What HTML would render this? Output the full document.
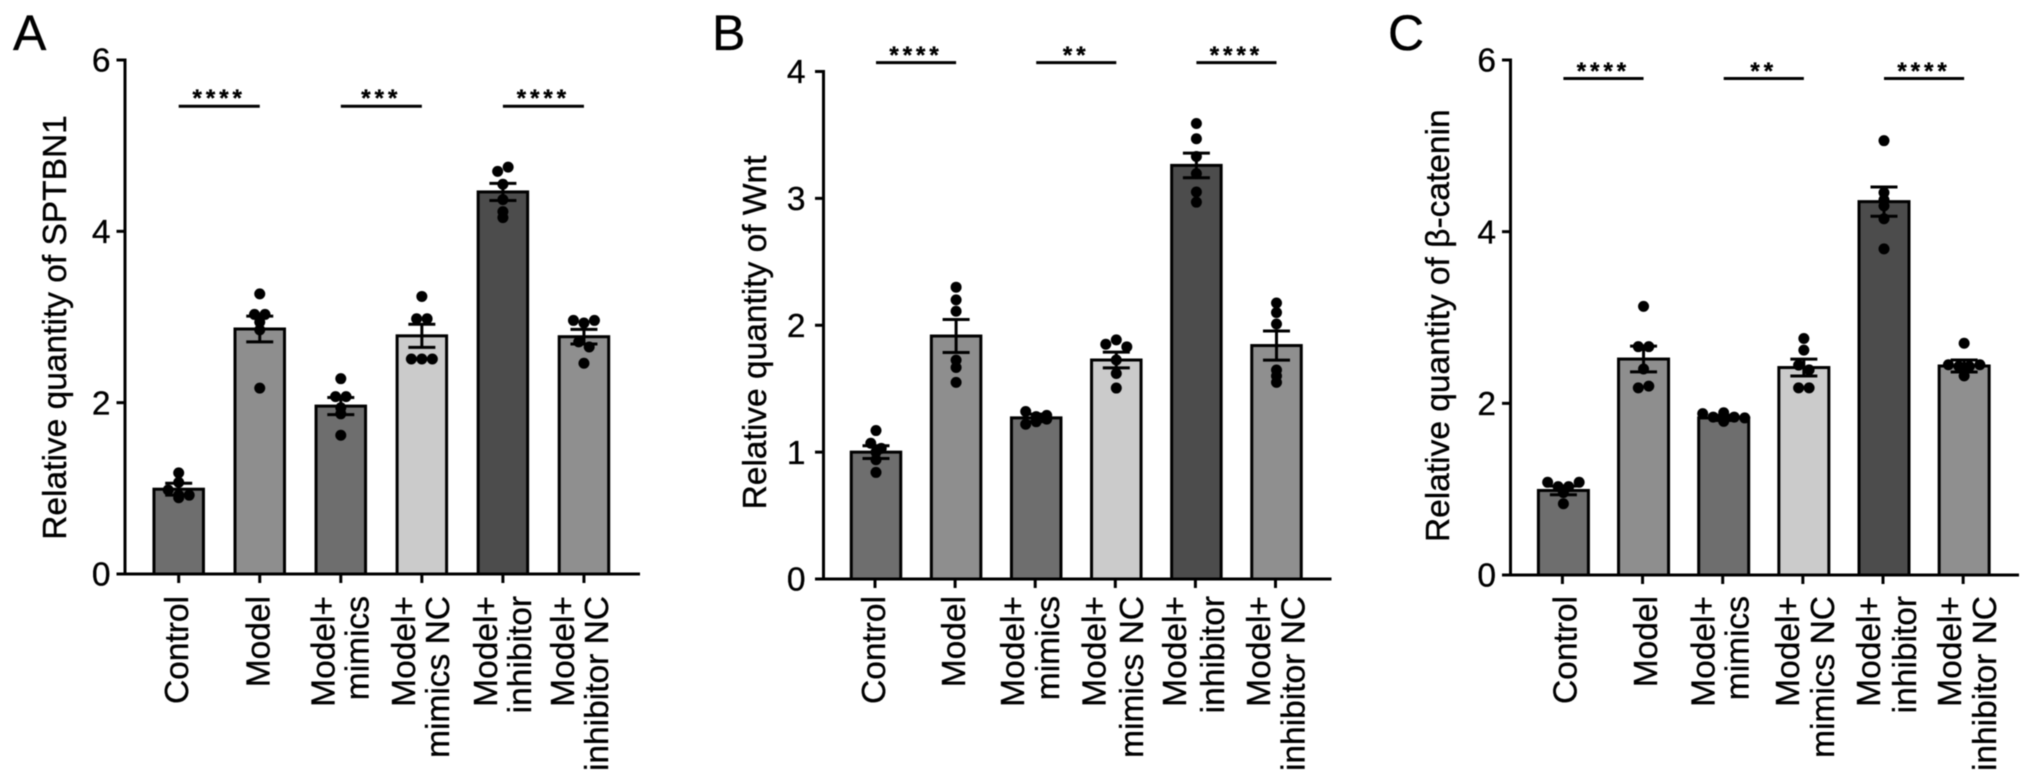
<!DOCTYPE html>
<html lang="en">
<head>
<meta charset="utf-8">
<title>Relative quantity of SPTBN1, Wnt and β-catenin</title>
<style>
  html, body { margin: 0; padding: 0; background: #fff; }
  svg { display: block; font-family: "Liberation Sans", Arial, sans-serif; filter: blur(0.45px); }
  text { stroke: #000; stroke-width: 0.35px; }
</style>
</head>
<body>
<svg id="figure" xmlns="http://www.w3.org/2000/svg" width="2032" height="782" viewBox="0 0 2032 782">
  <rect x="0" y="0" width="2032" height="782" fill="#ffffff"/>
</svg>
<script>
const categoryLines = [["Control"], ["Model"], ["Model+", "mimics"], ["Model+", "mimics NC"], ["Model+", "inhibitor"], ["Model+", "inhibitor NC"]];
const barFills = ["#6e6e6e", "#8e8e8e", "#6e6e6e", "#cbcbcb", "#4c4c4c", "#8f8f8f"];

const panelATicks = [0, 2, 4, 6];
const panelAMeans = [0.99, 2.86, 1.96, 2.78, 4.46, 2.77];
const panelASems = [0.07, 0.15, 0.10, 0.135, 0.10, 0.085];
const panelADots = [
  [1.18, 1.07, 0.98, 0.89, 0.92, 0.92],
  [3.27, 3.03, 3.03, 2.94, 2.85, 2.17],
  [2.28, 2.07, 2.07, 1.94, 1.87, 1.62],
  [3.24, 2.98, 2.98, 2.51, 2.51, 2.51],
  [4.70, 4.75, 4.55, 4.37, 4.23, 4.16],
  [2.96, 2.93, 2.96, 2.71, 2.65, 2.46]
];
const panelASigStars = ["****", "***", "****"];
const panelASigLevel = [5.46, 5.46, 5.46];

const panelBTicks = [0, 1, 2, 3, 4];
const panelBMeans = [1.0, 1.915, 1.27, 1.726, 3.26, 1.84];
const panelBSems = [0.05, 0.13, 0.03, 0.062, 0.097, 0.115];
const panelBDots = [
  [1.17, 1.07, 1.03, 1.0, 0.94, 0.84],
  [2.30, 2.20, 2.11, 1.725, 1.667, 1.55],
  [1.32, 1.28, 1.29, 1.22, 1.24, 1.26],
  [1.85, 1.885, 1.83, 1.726, 1.62, 1.505],
  [3.59, 3.47, 3.33, 3.195, 3.05, 2.97],
  [2.175, 2.10, 2.01, 1.647, 1.60, 1.55]
];
const panelBSigStars = ["****", "**", "****"];
const panelBSigLevel = [4.07, 4.07, 4.07];

const panelCTicks = [0, 2, 4, 6];
const panelCMeans = [0.985, 2.516, 1.83, 2.417, 4.35, 2.435];
const panelCSems = [0.05, 0.15, 0.03, 0.098, 0.17, 0.07];
const panelCDots = [
  [1.08, 1.03, 1.03, 1.08, 0.96, 0.83],
  [3.13, 2.66, 2.66, 2.40, 2.18, 2.20],
  [1.88, 1.84, 1.89, 1.84, 1.79, 1.83],
  [2.755, 2.62, 2.445, 2.39, 2.18, 2.18],
  [5.06, 4.455, 4.37, 4.30, 4.15, 3.80],
  [2.70, 2.45, 2.43, 2.43, 2.45, 2.32]
];
const panelCSigStars = ["****", "**", "****"];
const panelCSigLevel = [5.785, 5.785, 5.785];

const sigPairs = [[0, 1], [2, 3], [4, 5]];

const panels = [
  {
    id: "a", letter: "A", letterX: 13, title: "Relative quantity of SPTBN1",
    titleX: 66, titleY: 327.5,
    axisX: 125, axisEnd: 640, top: 60, base: 574, firstCenter: 178.7, step: 81.05, barWidth: 49.5,
    tickNudge: 0, tickLabelX: 110.5, max: 6,
    singleShift: 9.5, doubleShifts: [[-6.5, 27.5], [-7, 27], [-6, 28], [-10, 24]],
    ticks: panelATicks, means: panelAMeans, sems: panelASems, dots: panelADots,
    stars: panelASigStars, levels: panelASigLevel, starsRise: 14.5
  },
  {
    id: "b", letter: "B", letterX: 712, title: "Relative quantity of Wnt",
    titleX: 766, titleY: 332.5,
    axisX: 823.5, axisEnd: 1331.5, top: 71.5, base: 579, firstCenter: 876, step: 80.1, barWidth: 49.5,
    tickNudge: -1, tickLabelX: 805.5, max: 4,
    singleShift: 10, doubleShifts: [[-11, 23.7], [-10, 27.6], [-9.4, 28.5], [-5.4, 29]],
    ticks: panelBTicks, means: panelBMeans, sems: panelBSems, dots: panelBDots,
    stars: panelBSigStars, levels: panelBSigLevel, starsRise: 13.5
  },
  {
    id: "c", letter: "C", letterX: 1388, title: "Relative quantity of β-catenin",
    titleX: 1449, titleY: 325.7,
    axisX: 1510.5, axisEnd: 2019, top: 60, base: 575, firstCenter: 1563.4, step: 80.15, barWidth: 50,
    tickNudge: -1, tickLabelX: 1496, max: 6,
    singleShift: 14.2, doubleShifts: [[-8, 26], [-4, 31], [-3.2, 33], [-2, 33]],
    ticks: panelCTicks, means: panelCMeans, sems: panelCSems, dots: panelCDots,
    stars: panelCSigStars, levels: panelCSigLevel, starsRise: 13.5
  }
];

const SVG_NS = "http://www.w3.org/2000/svg";
const figure = document.getElementById("figure");

function make(parent, tag, attrs, content) {
  const node = document.createElementNS(SVG_NS, tag);
  for (const key in attrs) node.setAttribute(key, attrs[key]);
  if (content !== undefined) node.textContent = content;
  parent.appendChild(node);
  return node;
}

function swarm(values, yScale) {
  const bins = [];
  values.forEach(function (v) {
    const y = yScale(v);
    const bin = bins.find(function (b) { return Math.abs(b.y - y) < 5.2; });
    if (bin) bin.items.push(v); else bins.push({ y: y, items: [v] });
  });
  const placed = [];
  bins.forEach(function (b) {
    b.items.forEach(function (v, i) {
      placed.push({ value: v, slot: i - (b.items.length - 1) / 2 });
    });
  });
  return placed;
}

panels.forEach(function (p) {
  const yScale = function (v) { return p.base - v * (p.base - p.top) / p.max; };
  const xScale = function (i) { return p.firstCenter + i * p.step; };

  const panel = make(figure, "g", {});
  
  

  const letter = make(panel, "text", { x: p.letterX, y: 50, "font-size": 50, fill: "#000" }, p.letter);
  
  

  const title = make(panel, "text", {
    x: p.titleX, y: p.titleY, "font-size": 33.5, fill: "#000", "text-anchor": "middle",
    transform: "rotate(-90 " + p.titleX + " " + p.titleY + ")"
  }, p.title);
  
  

  p.means.forEach(function (mean, i) {
    const bar = make(panel, "rect", {
      x: xScale(i) - p.barWidth / 2, y: yScale(mean), width: p.barWidth, height: p.base - yScale(mean),
      fill: barFills[i], stroke: "#000", "stroke-width": 3
    });
    
    
  });

  p.dots.forEach(function (values, i) {
    swarm(values, yScale).forEach(function (d) {
      const dot = make(panel, "circle", { cx: xScale(i) + d.slot * 10.5, cy: yScale(d.value), r: 5.5, fill: "#000" });
      
      
    });
  });

  p.means.forEach(function (mean, i) {
    const cx = xScale(i);
    const hi = yScale(mean + p.sems[i]);
    const lo = yScale(mean - p.sems[i]);
    const stem = make(panel, "line", { x1: cx, x2: cx, y1: hi, y2: lo, stroke: "#000", "stroke-width": 3 });
    
    
    [hi, lo].forEach(function (y) {
      const cap = make(panel, "line", { x1: cx - 13.5, x2: cx + 13.5, y1: y, y2: y, stroke: "#000", "stroke-width": 3 });
      
      
    });
  });

  const yAxis = make(panel, "line", { x1: p.axisX, x2: p.axisX, y1: p.top - 1.5, y2: p.base + 1.5, stroke: "#000", "stroke-width": 3 });
  
  

  const xAxis = make(panel, "line", { x1: p.axisX - 8.5, x2: p.axisEnd, y1: p.base, y2: p.base, stroke: "#000", "stroke-width": 3 });
  
  

  p.ticks.forEach(function (t) {
    const y = yScale(t);
    const tick = make(panel, "line", { x1: p.axisX - 8.5, x2: p.axisX, y1: y, y2: y, stroke: "#000", "stroke-width": 3 });
    
    
    const label = make(panel, "text", { x: p.tickLabelX, y: y + 11.7, "font-size": 33.5, fill: "#000", "text-anchor": "end" }, String(t));
    
    
  });

  categoryLines.forEach(function (lines, i) {
    const tx = xScale(i) + p.tickNudge;
    const tick = make(panel, "line", { x1: tx, x2: tx, y1: p.base, y2: p.base + 9, stroke: "#000", "stroke-width": 3 });
    
    
    const shifts = lines.length === 1 ? [p.singleShift] : p.doubleShifts[i - 2];
    lines.forEach(function (line, k) {
      const lx = tx + shifts[k];
      const label = make(panel, "text", {
        x: lx, y: 596, "font-size": 33.5, fill: "#000", "text-anchor": "end",
        transform: "rotate(-90 " + lx + " 596)"
      }, line);
      
      
    });
  });

  sigPairs.forEach(function (pair, i) {
    const y = yScale(p.levels[i]);
    const x1 = xScale(pair[0]);
    const x2 = xScale(pair[1]);
    const sig = make(panel, "line", { x1: x1, x2: x2, y1: y, y2: y, stroke: "#000", "stroke-width": 3 });
    
    
    const stars = make(panel, "text", {
      x: (x1 + x2) / 2, y: y - p.starsRise + 14, "font-size": 24, "font-weight": "bold", fill: "#000",
      "text-anchor": "middle", "letter-spacing": 4
    }, p.stars[i]);
    
    
  });
});
</script>
</body>
</html>
